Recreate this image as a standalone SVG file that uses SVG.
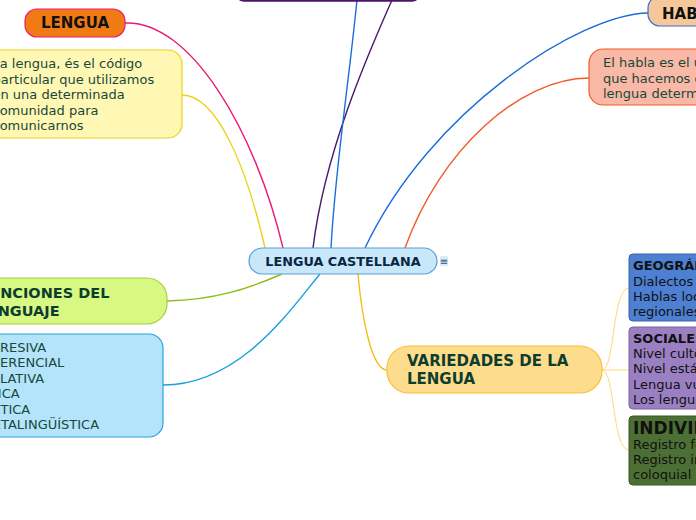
<svg xmlns="http://www.w3.org/2000/svg" width="696" height="520" viewBox="0 0 696 520">
<style>
text{font-family:"DejaVu Sans","Verdana",sans-serif}
.b{font-weight:bold}
.n{font-size:13px;fill:#17483a}
.k{font-size:13px;fill:#111}
.c{fill:none;stroke-width:1.4}
</style>
<rect width="696" height="520" fill="#fff"/>
<g id="connectors">
<path class="c" d="M125,23 C190,20 255,130 283,248" stroke="#ec1a74"/>
<path class="c" d="M182,95 C215,95 245,160 265,248" stroke="#ecd21a"/>
<path class="c" d="M392,0 C370,50 325,150 313,248" stroke="#4b1470"/>
<path class="c" d="M357,0 C348,90 335,170 331,248" stroke="#1a6ed8"/>
<path class="c" d="M648,13 C580,14 430,110 365,248" stroke="#1a6ed8"/>
<path class="c" d="M589,78 C520,78 440,150 405,248" stroke="#f25a28"/>
<path class="c" d="M167,301 C215,300 250,288 282,274" stroke="#8cbc14"/>
<path class="c" d="M163,385 C240,385 290,310 320,274" stroke="#1aa0e0"/>
<path class="c" d="M358,274 C362,320 372,370 387,370" stroke="#f5bc1a"/>
<path d="M602,370 C615,370 612,288 629,288 M602,370 L629,370 M602,370 C615,370 612,450 629,450" fill="none" stroke="#ffd87a" stroke-width="1"/>
</g>
<g id="top-node">
<rect x="236" y="-30" width="184" height="31" rx="8" fill="#4b1470" stroke="#4b1470" stroke-width="1.5"/>
</g>
<g id="central">
<rect x="249" y="248" width="188" height="26" rx="13" fill="#c8e8fa" stroke="#5a9ed6" stroke-width="1.2"/>
<text x="343" y="266" text-anchor="middle" class="b" font-size="12.8" fill="#0b2545">LENGUA CASTELLANA</text>
<rect x="440" y="256" width="8" height="10" rx="1.5" fill="#dce8f2"/>
<text x="444" y="265" text-anchor="middle" font-size="10" fill="#2a5a8a">≡</text>
</g>
<g id="lengua">
<rect x="25" y="9" width="100" height="28" rx="12" fill="#f07a14" stroke="#ec1a74" stroke-width="1.2"/>
<text x="75" y="28" text-anchor="middle" class="b" font-size="15" fill="#111">LENGUA</text>
</g>
<g id="lengua-note">
<rect x="-12" y="50" width="194" height="88" rx="14" fill="#fff7b4" stroke="#ecd21a" stroke-width="1.2"/>
<text class="n"><tspan x="-7.5" y="68">La lengua, és el código</tspan><tspan x="-7.5" y="84">particular que utilizamos</tspan><tspan x="-7.5" y="99">en una determinada</tspan><tspan x="-7.5" y="115">comunidad para</tspan><tspan x="-7.5" y="130">comunicarnos</tspan></text>
</g>
<g id="funciones">
<rect x="-20" y="278" width="187" height="46" rx="20" fill="#d8f884" stroke="#a8d03a" stroke-width="1.2"/>
<text class="b" font-size="14.5" fill="#0d3d2d"><tspan x="-21.5" y="298">FUNCIONES DEL</tspan><tspan x="-21.5" y="316">LENGUAJE</tspan></text>
</g>
<g id="funciones-list">
<rect x="-20" y="334" width="183" height="103" rx="14" fill="#b4e4fa" stroke="#2aa0e2" stroke-width="1.2"/>
<text class="n"><tspan x="-25" y="352">EXPRESIVA</tspan><tspan x="-24.7" y="367">REFERENCIAL</tspan><tspan x="-25" y="383">APELATIVA</tspan><tspan x="-24.3" y="398">FÁTICA</tspan><tspan x="-25.8" y="414">POÉTICA</tspan><tspan x="-18.4" y="429">METALINGÜÍSTICA</tspan></text>
</g>
<g id="habla">
<rect x="648" y="-4" width="70" height="30" rx="12" fill="#f5c89c" stroke="#3a6ad0" stroke-width="1.2"/>
<text x="662" y="19" class="b" font-size="15" fill="#111">HABLA</text>
</g>
<g id="habla-note">
<rect x="589" y="49" width="130" height="56" rx="14" fill="#f9b9a6" stroke="#f25a28" stroke-width="1.2"/>
<text class="n"><tspan x="603" y="67">El habla es el uso</tspan><tspan x="603" y="83">que hacemos de una</tspan><tspan x="603" y="98">lengua determinada</tspan></text>
</g>
<g id="variedades">
<rect x="387" y="346" width="215" height="47" rx="22" fill="#fddc8e" stroke="#f5c030" stroke-width="1.2"/>
<text class="b" font-size="15" fill="#0d3d2d"><tspan x="407" y="366">VARIEDADES DE LA</tspan><tspan x="407" y="384">LENGUA</tspan></text>
</g>
<g id="geograficas">
<rect x="629" y="254" width="90" height="67" rx="4" fill="#4d80d3" stroke="#3a62a0" stroke-width="1"/>
<text class="b" x="633" y="270" font-size="13" fill="#111">GEOGRÁFICAS</text>
<text class="k"><tspan x="633" y="286">Dialectos</tspan><tspan x="633" y="301">Hablas locales y</tspan><tspan x="633" y="316">regionales</tspan></text>
</g>
<g id="sociales">
<rect x="629" y="327" width="90" height="82" rx="4" fill="#9a80c2" stroke="#7a62a0" stroke-width="1"/>
<text class="b" x="633" y="343" font-size="13" fill="#111">SOCIALES</text>
<text class="k"><tspan x="633" y="358">Nivel culto</tspan><tspan x="633" y="373">Nivel estándar</tspan><tspan x="633" y="389">Lengua vulgar</tspan><tspan x="633" y="404">Los lenguajes</tspan></text>
</g>
<g id="individuales">
<rect x="629" y="416" width="90" height="69" rx="4" fill="#4c7034" stroke="#3a5528" stroke-width="1"/>
<text class="b" x="633" y="434" font-size="17" fill="#111">INDIVIDUALES</text>
<text class="k"><tspan x="633" y="449">Registro formal</tspan><tspan x="633" y="464">Registro informal o</tspan><tspan x="633" y="479">coloquial</tspan></text>
</g>
</svg>
